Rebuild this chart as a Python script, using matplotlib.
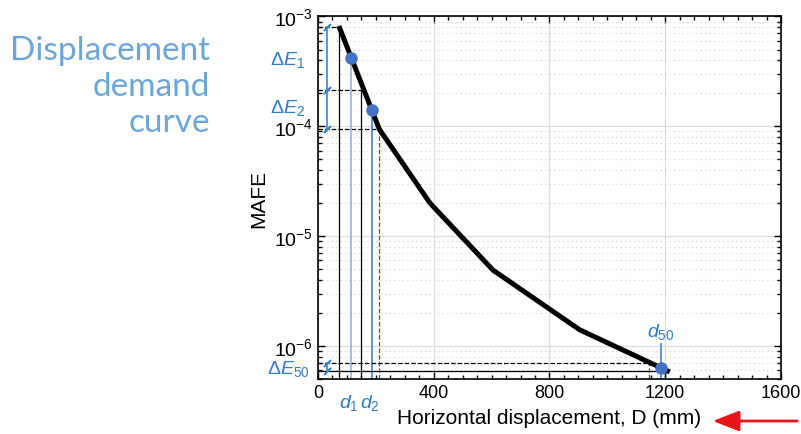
import numpy as np
import matplotlib.pyplot as plt
from matplotlib.ticker import MultipleLocator, LogLocator, NullFormatter

plt.rcParams['font.family'] = ['Liberation Sans', 'DejaVu Sans']
plt.rcParams['mathtext.fontset'] = 'custom'
plt.rcParams['mathtext.rm'] = 'Liberation Sans'
plt.rcParams['mathtext.it'] = 'Liberation Sans:italic'

# demand curve
disp = [72, 212, 387, 605, 905, 1216]
mafe = [8.2e-4, 9.4e-5, 2.0e-5, 4.9e-6, 1.4e-6, 5.8e-7]

# discretisation bins and the representative points
bin_d = [72, 147, 212]
bin_e = [8.0e-4, 2.13e-4, 9.4e-5]
rep_d = [113, 185]
rep_e = [4.2e-4, 1.4e-4]
d50_bins_d = [1144, 1199]
d50_bins_e = [7.0e-7, 5.9e-7]
d50 = 1186
e50 = 6.3e-7

ymin, ymax = 5.0e-7, 1e-3
blue_txt = '#2b7bd0'
blue_dot = '#4472c4'

fig = plt.figure(figsize=(8.01, 4.35), dpi=100)
ax = fig.add_axes([0.397, 0.1264, 0.578, 0.8334])

ax.set_yscale('log')
ax.set_xlim(0, 1600)
ax.set_ylim(ymin, ymax)

# guide lines for the bins
for i, (d, e) in enumerate(zip(bin_d, bin_e)):
    ls = '-' if i < 2 else '--'
    col = 'black' if i < 2 else '#555555'
    ax.plot([d, d], [ymin, e], color=col, lw=0.9, ls=ls, zorder=2)
    ax.plot([0, d], [e, e], color='black', lw=0.9, ls='--', zorder=2)
ax.plot([rep_d[0]] * 2, [ymin, rep_e[0]], color='#8fb4e3', lw=1.2, zorder=2)
ax.plot([rep_d[1]] * 2, [ymin, rep_e[1]], color='#3a86d4', lw=1.2, zorder=2)

ax.plot([d50_bins_d[0]] * 2, [ymin, d50_bins_e[0]], color='#555555', lw=0.9, ls='--', zorder=2)
ax.plot([0, d50_bins_d[0]], [d50_bins_e[0]] * 2, color='black', lw=0.9, ls='--', zorder=2)
ax.plot([d50_bins_d[1]] * 2, [ymin, d50_bins_e[1]], color='black', lw=0.9, zorder=2)
ax.plot([0, d50_bins_d[1]], [d50_bins_e[1]] * 2, color='black', lw=0.9, zorder=2)
ax.plot([d50, d50], [ymin, 1.05e-6], color='#3a86d4', lw=1.2, zorder=2)

# the curve
ax.plot(disp, mafe, color='black', lw=3.6, solid_capstyle='butt', zorder=3)
ax.plot(rep_d, rep_e, 'o', color=blue_dot, ms=8, zorder=4)
ax.plot([d50], [e50], 'o', color=blue_dot, ms=8, zorder=4)

# delta E brackets
bx = 31
ax.plot([bx, bx], [bin_e[0], bin_e[2]], color='#3a86d4', lw=1.2, zorder=3)
ax.plot([bx] * 3, bin_e, ls='none', marker=(2, 2, -45), ms=7, mew=1.1, color='#3a86d4', zorder=3)
ax.plot([bx, bx], d50_bins_e, color='#3a86d4', lw=1.2, zorder=3)
ax.plot([bx] * 2, d50_bins_e, ls='none', marker=(2, 2, -45), ms=7, mew=1.1, color='#3a86d4', zorder=3)

ax.text(-0.028, 4.1e-4, r'$\mathit{\Delta E_1}$', transform=ax.get_yaxis_transform(),
        ha='right', va='center', color=blue_txt, fontsize=14)
ax.text(-0.028, 1.5e-4, r'$\mathit{\Delta E_2}$', transform=ax.get_yaxis_transform(),
        ha='right', va='center', color=blue_txt, fontsize=14)
ax.text(-0.018, 6.3e-7, r'$\mathit{\Delta E_{50}}$', transform=ax.get_yaxis_transform(),
        ha='right', va='center', color=blue_txt, fontsize=14)
ax.text(rep_d[0] - 5, -0.035, r'$\mathit{d_1}$', transform=ax.get_xaxis_transform(),
        ha='center', va='top', color=blue_txt, fontsize=14)
ax.text(rep_d[1] - 5, -0.035, r'$\mathit{d_2}$', transform=ax.get_xaxis_transform(),
        ha='center', va='top', color=blue_txt, fontsize=14)
ax.text(d50, 1.12e-6, r'$\mathit{d_{50}}$', ha='center', va='bottom',
        color=blue_txt, fontsize=14)

# axes styling
ax.set_xticks([0, 400, 800, 1200, 1600])
ax.xaxis.set_minor_locator(MultipleLocator(50))
ax.yaxis.set_major_locator(LogLocator(base=10, numticks=10))
ax.yaxis.set_minor_locator(LogLocator(base=10, subs=np.arange(2, 10), numticks=20))
ax.yaxis.set_minor_formatter(NullFormatter())
ax.tick_params(which='both', direction='in', top=True, right=True, width=1)
ax.tick_params(axis='x', labelsize=13)
ax.tick_params(axis='y', labelsize=14)
ax.tick_params(which='major', length=5)
ax.tick_params(which='minor', length=3)
ax.grid(True, which='major', color='#dddddd', lw=0.9)
ax.grid(True, which='minor', axis='y', color='#d0d0d0', lw=0.8, ls=(0, (1, 3)))
ax.set_axisbelow(True)
for s in ax.spines.values():
    s.set_linewidth(1.2)
ax.set_xlabel('Horizontal displacement, D (mm)', fontsize=15, labelpad=5)
ax.set_ylabel('MAFE', fontsize=15, labelpad=4)

fig.text(210 / 801, 1 - 87 / 435, 'Displacement\ndemand\ncurve', ha='right', va='center',
         color='#6aa6dc', fontsize=24, family='Lato', linespacing=1.27)

fig.add_artist(plt.matplotlib.patches.FancyArrowPatch(
    (800 / 801, 1 - 422 / 435), (710 / 801, 1 - 422 / 435), transform=fig.transFigure,
    arrowstyle='-|>,head_length=0.9,head_width=0.35', mutation_scale=18,
    color='#e8141b', lw=2))

fig.savefig('out.png', dpi=100)
